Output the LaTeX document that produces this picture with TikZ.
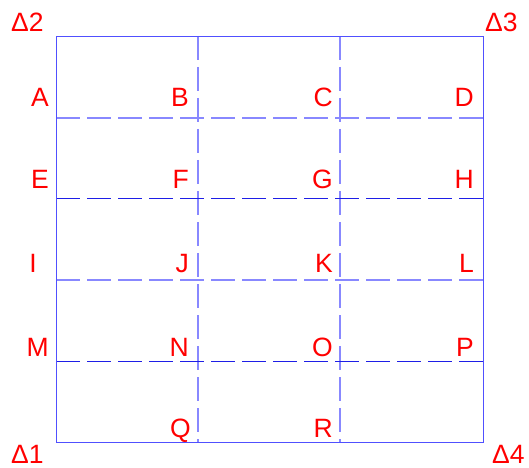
\documentclass[tikz,border=0pt]{standalone}
\usepackage{fontspec}
\setmainfont{Liberation Sans}
\definecolor{labred}{RGB}{255,0,0}
\definecolor{frameblue}{RGB}{80,80,255}
\definecolor{lightdash}{RGB}{136,136,255}
\definecolor{darkdash}{RGB}{30,30,230}
\begin{document}
\begin{tikzpicture}[x=1bp,y=-1bp,
  lab/.style={text=labred,font=\fontsize{26.5bp}{30bp}\selectfont,inner sep=0pt,anchor=base east},
  dlab/.style={text=labred,font=\fontsize{26.5bp}{30bp}\selectfont,inner sep=0pt,anchor=base west},
  framestyle/.style={draw=frameblue,line width=0.9bp},
  lightline/.style={draw=lightdash,line width=1.4bp,dash pattern=on 24bp off 7bp},
  darkline/.style={draw=darkdash,line width=1bp,dash pattern=on 24bp off 7bp}]
\useasboundingbox (0,0) rectangle (529,468);
% grid coordinates
\coordinate (tl) at (56,36);
\coordinate (br) at (483,442);
\coordinate (v1t) at (198,36); \coordinate (v1b) at (198,442);
\coordinate (v2t) at (340,36); \coordinate (v2b) at (340,442);
\coordinate (h1l) at (56,118); \coordinate (h1r) at (483,118);
\coordinate (h2l) at (56,199); \coordinate (h2r) at (483,199);
\coordinate (h3l) at (56,280); \coordinate (h3r) at (483,280);
\coordinate (h4l) at (56,361); \coordinate (h4r) at (483,361);
\draw[lightline] (v1t) -- (v1b);
\draw[lightline] (v2t) -- (v2b);
\draw[lightline] (h1l) -- (h1r);
\draw[darkline] (h2l) -- (h2r);
\draw[lightline] (h3l) -- (h3r);
\draw[darkline] (h4l) -- (h4r);
\draw[framestyle] (tl) rectangle (br);
% corner labels
\node[dlab] (d2) at (11,32) {Δ2};
\node[dlab] (d3) at (485,32) {Δ3};
\node[dlab] (d1) at (11,463) {Δ1};
\node[dlab] (d4) at (492,463) {Δ4};
% grid labels
\node[lab] (A) at (49,107) {A};
\node[lab] (B) at (189,107) {B};
\node[lab] (C) at (333,107) {C};
\node[lab] (D) at (474,107) {D};
\node[lab] (E) at (49,189) {E};
\node[lab] (F) at (189,189) {F};
\node[lab] (G) at (333,189) {G};
\node[lab] (H) at (474,189) {H};
\node[lab] (I) at (37,272) {I};
\node[lab] (J) at (189,272) {J};
\node[lab] (K) at (333,272) {K};
\node[lab] (L) at (474,272) {L};
\node[lab] (M) at (49,356) {M};
\node[lab] (N) at (189,356) {N};
\node[lab] (O) at (333,356) {O};
\node[lab] (P) at (474,356) {P};
\node[lab] (Q) at (191,437) {Q};
\node[lab] (R) at (333,437) {R};
\end{tikzpicture}
\end{document}
